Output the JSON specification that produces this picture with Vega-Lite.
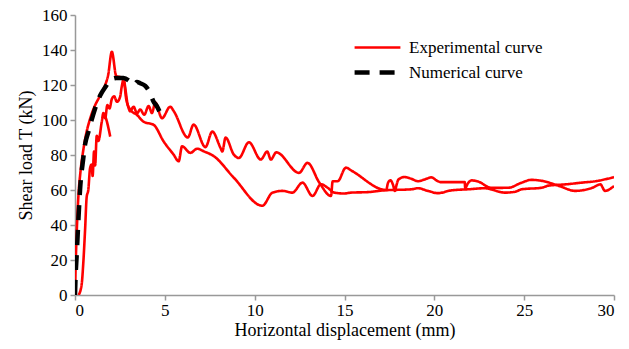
{
  "$schema": "https://vega.github.io/schema/vega-lite/v6.json",
  "width": 539,
  "height": 280,
  "autosize": {"type": "none"},
  "padding": {"left": 75, "top": 15, "right": 15, "bottom": 54},
  "background": "white",
  "config": {
    "view": {"stroke": null},
    "font": "Liberation Serif",
    "axis": {"labelFont": "Liberation Serif", "titleFont": "Liberation Serif", "labelFontSize": 17, "titleFontSize": 18, "titleFontWeight": "normal", "labelColor": "#000", "titleColor": "#000", "domainColor": "#999", "domainWidth": 1.5, "tickColor": "#999", "tickWidth": 1.5, "tickSize": 5, "grid": false}
  },
  "datasets": {
    "pts": [
      {"curve": "Experimental curve", "seg": "a", "i": 1, "x": 0, "y": 0},
      {"curve": "Experimental curve", "seg": "a", "i": 2, "x": 0.02, "y": 10},
      {"curve": "Experimental curve", "seg": "a", "i": 3, "x": 0.05, "y": 22},
      {"curve": "Experimental curve", "seg": "a", "i": 4, "x": 0.1, "y": 37},
      {"curve": "Experimental curve", "seg": "a", "i": 5, "x": 0.18, "y": 55},
      {"curve": "Experimental curve", "seg": "a", "i": 6, "x": 0.3, "y": 70},
      {"curve": "Experimental curve", "seg": "a", "i": 7, "x": 0.45, "y": 82},
      {"curve": "Experimental curve", "seg": "a", "i": 8, "x": 0.62, "y": 92},
      {"curve": "Experimental curve", "seg": "a", "i": 9, "x": 0.85, "y": 101},
      {"curve": "Experimental curve", "seg": "a", "i": 10, "x": 1.1, "y": 108},
      {"curve": "Experimental curve", "seg": "a", "i": 11, "x": 1.35, "y": 113},
      {"curve": "Experimental curve", "seg": "a", "i": 12, "x": 1.6, "y": 118},
      {"curve": "Experimental curve", "seg": "a", "i": 13, "x": 1.85, "y": 126},
      {"curve": "Experimental curve", "seg": "a", "i": 14, "x": 2.05, "y": 139},
      {"curve": "Experimental curve", "seg": "a", "i": 15, "x": 2.3, "y": 125},
      {"curve": "Experimental curve", "seg": "a", "i": 16, "x": 2.5, "y": 124.5},
      {"curve": "Experimental curve", "seg": "a", "i": 17, "x": 2.68, "y": 124},
      {"curve": "Experimental curve", "seg": "a", "i": 18, "x": 2.95, "y": 108},
      {"curve": "Experimental curve", "seg": "a", "i": 19, "x": 3.07, "y": 105},
      {"curve": "Experimental curve", "seg": "a", "i": 20, "x": 3.26, "y": 107.6},
      {"curve": "Experimental curve", "seg": "a", "i": 21, "x": 3.45, "y": 103.8},
      {"curve": "Experimental curve", "seg": "a", "i": 22, "x": 3.63, "y": 106},
      {"curve": "Experimental curve", "seg": "a", "i": 23, "x": 3.85, "y": 103},
      {"curve": "Experimental curve", "seg": "a", "i": 24, "x": 4.1, "y": 108},
      {"curve": "Experimental curve", "seg": "a", "i": 25, "x": 4.28, "y": 104},
      {"curve": "Experimental curve", "seg": "a", "i": 26, "x": 4.47, "y": 110},
      {"curve": "Experimental curve", "seg": "a", "i": 27, "x": 4.84, "y": 101},
      {"curve": "Experimental curve", "seg": "a", "i": 28, "x": 5.3, "y": 107.6},
      {"curve": "Experimental curve", "seg": "a", "i": 29, "x": 5.5, "y": 105},
      {"curve": "Experimental curve", "seg": "a", "i": 30, "x": 6.28, "y": 90},
      {"curve": "Experimental curve", "seg": "a", "i": 31, "x": 6.6, "y": 97.4},
      {"curve": "Experimental curve", "seg": "a", "i": 32, "x": 7.26, "y": 84.5},
      {"curve": "Experimental curve", "seg": "a", "i": 33, "x": 7.64, "y": 93.4},
      {"curve": "Experimental curve", "seg": "a", "i": 34, "x": 8.1, "y": 84},
      {"curve": "Experimental curve", "seg": "a", "i": 35, "x": 8.2, "y": 82},
      {"curve": "Experimental curve", "seg": "a", "i": 36, "x": 8.38, "y": 90},
      {"curve": "Experimental curve", "seg": "a", "i": 37, "x": 8.84, "y": 80.2},
      {"curve": "Experimental curve", "seg": "a", "i": 38, "x": 9.12, "y": 78.3},
      {"curve": "Experimental curve", "seg": "a", "i": 39, "x": 9.68, "y": 87.3},
      {"curve": "Experimental curve", "seg": "a", "i": 40, "x": 10.34, "y": 77.4},
      {"curve": "Experimental curve", "seg": "a", "i": 41, "x": 10.7, "y": 82},
      {"curve": "Experimental curve", "seg": "a", "i": 42, "x": 10.9, "y": 77.4},
      {"curve": "Experimental curve", "seg": "a", "i": 43, "x": 11.2, "y": 81.5},
      {"curve": "Experimental curve", "seg": "a", "i": 44, "x": 12.47, "y": 69.8},
      {"curve": "Experimental curve", "seg": "a", "i": 45, "x": 12.94, "y": 75.5},
      {"curve": "Experimental curve", "seg": "a", "i": 46, "x": 13.6, "y": 64.2},
      {"curve": "Experimental curve", "seg": "a", "i": 47, "x": 14.25, "y": 56.6},
      {"curve": "Experimental curve", "seg": "a", "i": 48, "x": 14.34, "y": 65},
      {"curve": "Experimental curve", "seg": "a", "i": 49, "x": 14.62, "y": 65},
      {"curve": "Experimental curve", "seg": "a", "i": 50, "x": 15.08, "y": 72.8},
      {"curve": "Experimental curve", "seg": "a", "i": 51, "x": 15.4, "y": 71},
      {"curve": "Experimental curve", "seg": "a", "i": 52, "x": 17.32, "y": 60},
      {"curve": "Experimental curve", "seg": "a", "i": 53, "x": 17.42, "y": 64},
      {"curve": "Experimental curve", "seg": "a", "i": 54, "x": 17.55, "y": 65.5},
      {"curve": "Experimental curve", "seg": "a", "i": 55, "x": 17.7, "y": 63},
      {"curve": "Experimental curve", "seg": "a", "i": 56, "x": 17.8, "y": 59.5},
      {"curve": "Experimental curve", "seg": "a", "i": 57, "x": 17.9, "y": 63},
      {"curve": "Experimental curve", "seg": "a", "i": 58, "x": 18.0, "y": 66},
      {"curve": "Experimental curve", "seg": "a", "i": 59, "x": 18.34, "y": 67.4},
      {"curve": "Experimental curve", "seg": "a", "i": 60, "x": 18.7, "y": 66.5},
      {"curve": "Experimental curve", "seg": "a", "i": 61, "x": 19.09, "y": 65},
      {"curve": "Experimental curve", "seg": "a", "i": 62, "x": 19.5, "y": 66.2},
      {"curve": "Experimental curve", "seg": "a", "i": 63, "x": 19.83, "y": 67.2},
      {"curve": "Experimental curve", "seg": "a", "i": 64, "x": 20.2, "y": 65},
      {"curve": "Experimental curve", "seg": "a", "i": 65, "x": 20.39, "y": 64.5},
      {"curve": "Experimental curve", "seg": "a", "i": 66, "x": 21.69, "y": 64.5},
      {"curve": "Experimental curve", "seg": "a", "i": 67, "x": 21.72, "y": 61},
      {"curve": "Experimental curve", "seg": "a", "i": 68, "x": 21.85, "y": 63.5},
      {"curve": "Experimental curve", "seg": "a", "i": 69, "x": 22.07, "y": 65.5},
      {"curve": "Experimental curve", "seg": "a", "i": 70, "x": 22.44, "y": 64.8},
      {"curve": "Experimental curve", "seg": "a", "i": 71, "x": 23.18, "y": 61.2},
      {"curve": "Experimental curve", "seg": "a", "i": 72, "x": 24.12, "y": 61.3},
      {"curve": "Experimental curve", "seg": "a", "i": 73, "x": 24.86, "y": 64.2},
      {"curve": "Experimental curve", "seg": "a", "i": 74, "x": 25.4, "y": 65.8},
      {"curve": "Experimental curve", "seg": "a", "i": 75, "x": 26.0, "y": 65.2},
      {"curve": "Experimental curve", "seg": "a", "i": 76, "x": 26.9, "y": 62.5},
      {"curve": "Experimental curve", "seg": "a", "i": 77, "x": 27.85, "y": 59.5},
      {"curve": "Experimental curve", "seg": "a", "i": 78, "x": 28.8, "y": 61.3},
      {"curve": "Experimental curve", "seg": "a", "i": 79, "x": 29.24, "y": 63.2},
      {"curve": "Experimental curve", "seg": "a", "i": 80, "x": 29.5, "y": 59.5},
      {"curve": "Experimental curve", "seg": "a", "i": 81, "x": 30, "y": 62.3},
      {"curve": "Experimental curve", "seg": "b", "i": 1, "x": 0.2, "y": 0},
      {"curve": "Experimental curve", "seg": "b", "i": 2, "x": 0.37, "y": 6},
      {"curve": "Experimental curve", "seg": "b", "i": 3, "x": 0.46, "y": 18},
      {"curve": "Experimental curve", "seg": "b", "i": 4, "x": 0.56, "y": 37},
      {"curve": "Experimental curve", "seg": "b", "i": 5, "x": 0.65, "y": 56},
      {"curve": "Experimental curve", "seg": "b", "i": 6, "x": 0.74, "y": 60},
      {"curve": "Experimental curve", "seg": "b", "i": 7, "x": 0.84, "y": 72.6},
      {"curve": "Experimental curve", "seg": "b", "i": 8, "x": 0.93, "y": 74.6},
      {"curve": "Experimental curve", "seg": "b", "i": 9, "x": 0.98, "y": 68},
      {"curve": "Experimental curve", "seg": "b", "i": 10, "x": 1.06, "y": 82},
      {"curve": "Experimental curve", "seg": "b", "i": 11, "x": 1.12, "y": 74},
      {"curve": "Experimental curve", "seg": "b", "i": 12, "x": 1.21, "y": 91},
      {"curve": "Experimental curve", "seg": "b", "i": 13, "x": 1.3, "y": 88},
      {"curve": "Experimental curve", "seg": "b", "i": 14, "x": 1.49, "y": 99},
      {"curve": "Experimental curve", "seg": "b", "i": 15, "x": 1.58, "y": 104},
      {"curve": "Experimental curve", "seg": "b", "i": 16, "x": 1.68, "y": 101},
      {"curve": "Experimental curve", "seg": "b", "i": 17, "x": 1.8, "y": 108.5},
      {"curve": "Experimental curve", "seg": "b", "i": 18, "x": 1.92, "y": 106.6},
      {"curve": "Experimental curve", "seg": "b", "i": 19, "x": 2.05, "y": 112},
      {"curve": "Experimental curve", "seg": "b", "i": 20, "x": 2.18, "y": 113.6},
      {"curve": "Experimental curve", "seg": "b", "i": 21, "x": 2.33, "y": 110.4},
      {"curve": "Experimental curve", "seg": "b", "i": 22, "x": 2.51, "y": 113.2},
      {"curve": "Experimental curve", "seg": "b", "i": 23, "x": 2.6, "y": 119},
      {"curve": "Experimental curve", "seg": "b", "i": 24, "x": 2.7, "y": 123},
      {"curve": "Experimental curve", "seg": "b", "i": 25, "x": 2.85, "y": 112},
      {"curve": "Experimental curve", "seg": "b", "i": 26, "x": 3.07, "y": 106},
      {"curve": "Experimental curve", "seg": "b", "i": 27, "x": 3.45, "y": 102.9},
      {"curve": "Experimental curve", "seg": "b", "i": 28, "x": 3.82, "y": 99},
      {"curve": "Experimental curve", "seg": "b", "i": 29, "x": 4.38, "y": 97.2},
      {"curve": "Experimental curve", "seg": "b", "i": 30, "x": 4.93, "y": 87.8},
      {"curve": "Experimental curve", "seg": "b", "i": 31, "x": 5.49, "y": 80.2},
      {"curve": "Experimental curve", "seg": "b", "i": 32, "x": 5.77, "y": 76.4},
      {"curve": "Experimental curve", "seg": "b", "i": 33, "x": 5.96, "y": 85},
      {"curve": "Experimental curve", "seg": "b", "i": 34, "x": 6.42, "y": 81.2},
      {"curve": "Experimental curve", "seg": "b", "i": 35, "x": 6.8, "y": 83.6},
      {"curve": "Experimental curve", "seg": "b", "i": 36, "x": 7.17, "y": 82.1},
      {"curve": "Experimental curve", "seg": "b", "i": 37, "x": 7.73, "y": 79.3},
      {"curve": "Experimental curve", "seg": "b", "i": 38, "x": 8.84, "y": 67},
      {"curve": "Experimental curve", "seg": "b", "i": 39, "x": 10.43, "y": 51},
      {"curve": "Experimental curve", "seg": "b", "i": 40, "x": 10.99, "y": 58.5},
      {"curve": "Experimental curve", "seg": "b", "i": 41, "x": 11.55, "y": 59.5},
      {"curve": "Experimental curve", "seg": "b", "i": 42, "x": 12.1, "y": 58.5},
      {"curve": "Experimental curve", "seg": "b", "i": 43, "x": 12.66, "y": 64.2},
      {"curve": "Experimental curve", "seg": "b", "i": 44, "x": 13.22, "y": 56.6},
      {"curve": "Experimental curve", "seg": "b", "i": 45, "x": 13.69, "y": 63.3},
      {"curve": "Experimental curve", "seg": "b", "i": 46, "x": 14.06, "y": 61.3},
      {"curve": "Experimental curve", "seg": "b", "i": 47, "x": 14.43, "y": 58.5},
      {"curve": "Experimental curve", "seg": "b", "i": 48, "x": 14.99, "y": 58},
      {"curve": "Experimental curve", "seg": "b", "i": 49, "x": 15.36, "y": 58.5},
      {"curve": "Experimental curve", "seg": "b", "i": 50, "x": 16.3, "y": 58.8},
      {"curve": "Experimental curve", "seg": "b", "i": 51, "x": 17.2, "y": 59.8},
      {"curve": "Experimental curve", "seg": "b", "i": 52, "x": 18.72, "y": 60.4},
      {"curve": "Experimental curve", "seg": "b", "i": 53, "x": 19.09, "y": 61},
      {"curve": "Experimental curve", "seg": "b", "i": 54, "x": 19.64, "y": 59.5},
      {"curve": "Experimental curve", "seg": "b", "i": 55, "x": 20.2, "y": 58.2},
      {"curve": "Experimental curve", "seg": "b", "i": 56, "x": 20.95, "y": 59.8},
      {"curve": "Experimental curve", "seg": "b", "i": 57, "x": 21.88, "y": 60.4},
      {"curve": "Experimental curve", "seg": "b", "i": 58, "x": 22.81, "y": 61},
      {"curve": "Experimental curve", "seg": "b", "i": 59, "x": 23.93, "y": 58.5},
      {"curve": "Experimental curve", "seg": "b", "i": 60, "x": 24.5, "y": 59},
      {"curve": "Experimental curve", "seg": "b", "i": 61, "x": 24.86, "y": 60.4},
      {"curve": "Experimental curve", "seg": "b", "i": 62, "x": 25.98, "y": 61.3},
      {"curve": "Experimental curve", "seg": "b", "i": 63, "x": 26.35, "y": 62.5},
      {"curve": "Experimental curve", "seg": "b", "i": 64, "x": 27.28, "y": 63.2},
      {"curve": "Experimental curve", "seg": "b", "i": 65, "x": 28.2, "y": 64.2},
      {"curve": "Experimental curve", "seg": "b", "i": 66, "x": 28.96, "y": 65},
      {"curve": "Experimental curve", "seg": "b", "i": 67, "x": 30, "y": 67.4},
      {"curve": "Experimental curve", "seg": "c", "i": 1, "x": 1.6, "y": 104},
      {"curve": "Experimental curve", "seg": "c", "i": 2, "x": 1.75, "y": 100},
      {"curve": "Experimental curve", "seg": "c", "i": 3, "x": 1.96, "y": 90.5},
      {"curve": "Numerical curve", "seg": "n", "i": 1, "x": 0, "y": 0},
      {"curve": "Numerical curve", "seg": "n", "i": 2, "x": 0.03, "y": 10},
      {"curve": "Numerical curve", "seg": "n", "i": 3, "x": 0.09, "y": 22},
      {"curve": "Numerical curve", "seg": "n", "i": 4, "x": 0.18, "y": 41},
      {"curve": "Numerical curve", "seg": "n", "i": 5, "x": 0.28, "y": 60},
      {"curve": "Numerical curve", "seg": "n", "i": 6, "x": 0.46, "y": 78},
      {"curve": "Numerical curve", "seg": "n", "i": 7, "x": 0.56, "y": 86},
      {"curve": "Numerical curve", "seg": "n", "i": 8, "x": 0.74, "y": 93},
      {"curve": "Numerical curve", "seg": "n", "i": 9, "x": 1.12, "y": 106.6},
      {"curve": "Numerical curve", "seg": "n", "i": 10, "x": 1.4, "y": 114},
      {"curve": "Numerical curve", "seg": "n", "i": 11, "x": 1.7, "y": 119},
      {"curve": "Numerical curve", "seg": "n", "i": 12, "x": 1.96, "y": 122.7},
      {"curve": "Numerical curve", "seg": "n", "i": 13, "x": 2.3, "y": 124},
      {"curve": "Numerical curve", "seg": "n", "i": 14, "x": 2.7, "y": 124},
      {"curve": "Numerical curve", "seg": "n", "i": 15, "x": 3.0, "y": 122.5},
      {"curve": "Numerical curve", "seg": "n", "i": 16, "x": 3.26, "y": 120},
      {"curve": "Numerical curve", "seg": "n", "i": 17, "x": 3.45, "y": 121.7},
      {"curve": "Numerical curve", "seg": "n", "i": 18, "x": 3.63, "y": 121},
      {"curve": "Numerical curve", "seg": "n", "i": 19, "x": 3.91, "y": 119.5},
      {"curve": "Numerical curve", "seg": "n", "i": 20, "x": 4.1, "y": 117},
      {"curve": "Numerical curve", "seg": "n", "i": 21, "x": 4.38, "y": 110.4},
      {"curve": "Numerical curve", "seg": "n", "i": 22, "x": 4.55, "y": 108},
      {"curve": "Numerical curve", "seg": "n", "i": 23, "x": 4.75, "y": 103.8}
    ]
  },
  "data": {"name": "pts"},
  "mark": {"type": "line", "interpolate": "monotone", "strokeCap": "butt", "strokeJoin": "round", "clip": true},
  "encoding": {
    "x": {"field": "x", "type": "quantitative", "scale": {"domain": [0, 30], "nice": false, "zero": false}, "axis": {"values": [0, 5, 10, 15, 20, 25, 30], "title": "Horizontal displacement (mm)", "labelPadding": 2, "titlePadding": 3}},
    "y": {"field": "y", "type": "quantitative", "scale": {"domain": [0, 160], "nice": false}, "axis": {"values": [0, 20, 40, 60, 80, 100, 120, 140, 160], "title": "Shear load T (kN)", "labelPadding": 3, "titlePadding": 6}},
    "detail": {"field": "seg"},
    "order": {"field": "i", "type": "quantitative"},
    "color": {"field": "curve", "type": "nominal", "scale": {"domain": ["Experimental curve", "Numerical curve"], "range": ["#ff0000", "#000000"]},
      "legend": {"title": null, "orient": "none", "legendX": 277, "legendY": 22, "symbolType": "stroke", "symbolSize": 2100, "labelFont": "Liberation Serif", "labelFontSize": 17, "labelColor": "#000", "labelOffset": 6, "padding": 0, "rowPadding": 4, "clipHeight": 21}},
    "strokeDash": {"field": "curve", "type": "nominal", "scale": {"domain": ["Experimental curve", "Numerical curve"], "range": [[1, 0], [15, 10]]}},
    "strokeWidth": {"field": "curve", "type": "nominal", "scale": {"domain": ["Experimental curve", "Numerical curve"], "range": [2.6, 4.5]}}
  }
}
